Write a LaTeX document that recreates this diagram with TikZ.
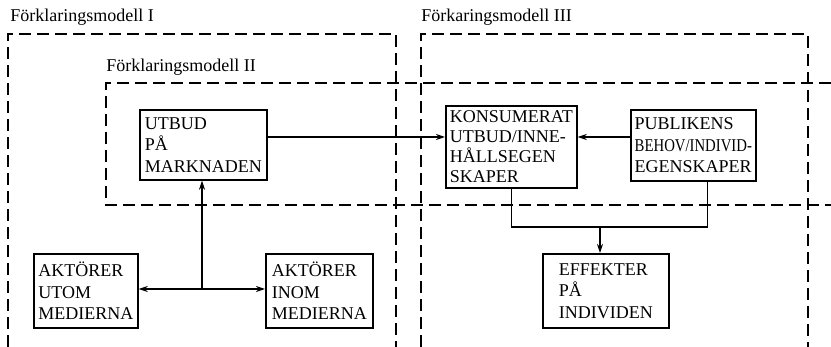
\documentclass[tikz,border=0pt]{standalone}
\usepackage{fontspec}
\setmainfont{Liberation Serif}
\usetikzlibrary{arrows.meta}

\begin{document}
\begin{tikzpicture}[x=0.5pt, y=-0.5pt, font=\fontsize{9}{10.8}\selectfont]
            \tikzstyle{frame} = [line width=0.75pt, dash pattern=on 6pt off 3pt]
            \tikzstyle{box} = [draw, line width=0.85pt, rectangle, anchor=north west, align=left, inner sep=1.5pt]
            \tikzstyle{flow} = [line width=0.65pt]
            \tikzstyle{arr} = [-{Stealth[length=4.5pt, width=3pt]}]
            \tikzstyle{biarr} = [{Stealth[length=4.5pt, width=3pt]}-{Stealth[length=4.5pt, width=3pt]}]
            \useasboundingbox (0, 0) rectangle (831, 347);
            % dashed frames of the three models
            \draw[frame] (8, 347) -- (8, 34) -- (396, 34) -- (396, 347);
            \draw[frame] (421, 347) -- (421, 34) -- (808, 34) -- (808, 347);
            \draw[frame] (831, 83) -- (106, 83) -- (106, 205) -- (831, 205);
            \node[anchor=base west, inner sep=0pt] (lblI) at (10, 22) {Förklaringsmodell I};
            \node[anchor=base west, inner sep=0pt] (lblII) at (106, 72) {Förklaringsmodell II};
            \node[anchor=base west, inner sep=0pt] (lblIII) at (421, 22) {Förkaringsmodell III};
            % boxes
            \node[box, minimum width=63.5pt, minimum height=35pt] (utbud) at (139, 109) {UTBUD\\PÅ\\MARKNADEN};
            \node[box, minimum width=52pt, minimum height=37pt] (utom) at (33, 253) {AKTÖRER\\UTOM\\MEDIERNA};
            \node[box, minimum width=53.5pt, minimum height=37pt] (inom) at (265, 253) {AKTÖRER\\INOM\\MEDIERNA};
            \node[box, minimum width=65.5pt, minimum height=41pt, font=\fontsize{9}{10}\selectfont] (konsum) at (445, 105) {KONSUMERAT\\UTBUD/INNE-\\HÅLLSEGEN\\SKAPER};
            \node[box, minimum width=62.5pt, minimum height=35.5pt] (publik) at (630, 109) {PUBLIKENS\\\scalebox{0.82}[1]{BEHOV/INDIVID-}\\EGENSKAPER};
            \node[box, minimum width=63pt, minimum height=37pt] (effekt) at (542, 253) {EFFEKTER\\PÅ\\INDIVIDEN};
            % connectors
            \coordinate (mid) at (0, 137);
            \coordinate (hub) at (202, 289);
            \coordinate (join) at (600, 227);
            \draw[flow, arr] (utbud.east |- mid) -- (konsum.west |- mid);
            \draw[flow, arr] (publik.west |- mid) -- (konsum.east |- mid);
            \draw[flow, arr] (hub) -- (utbud.south -| hub);
            \draw[flow, biarr] (utom.east |- hub) -- (inom.west |- hub);
            \draw[flow] (konsum.south) |- (join) -| ([xshift=7pt]publik.south);
            \draw[flow, arr] (join) -- (effekt.north -| join);
        \end{tikzpicture}
\end{document}
